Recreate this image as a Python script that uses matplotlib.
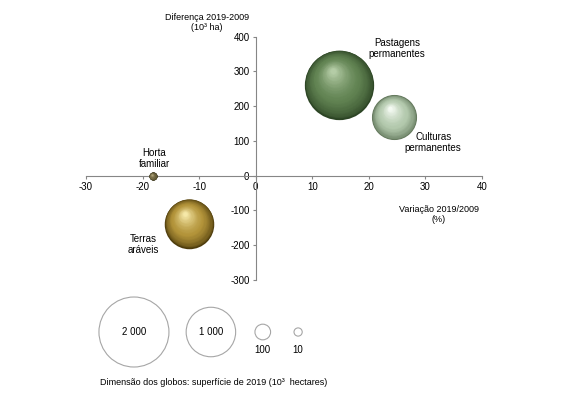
import numpy as np
import matplotlib
matplotlib.use("Agg")
import matplotlib.pyplot as plt
import matplotlib.transforms as mtransforms
from matplotlib.colors import to_rgb

plt.rcParams['font.family'] = ['Liberation Sans', 'DejaVu Sans']
plt.rcParams['axes.unicode_minus'] = False

# data
categorias = ['Pastagens\npermanentes', 'Culturas\npermanentes', 'Terras\naráveis', 'Horta\nfamiliar']
variacao = [14.7, 24.5, -11.8, -18.2]      # Variação 2019/2009 (%)
diferenca = [262, 168, -138, -2]            # Diferença 2019-2009 (10³ ha)
superficie = [1960, 830, 1000, 18]          # superfície 2019 (10³ ha)

legenda_valores = [2000, 1000, 100, 10]
legenda_textos = ['2 000', '1 000', '100', '10']

# colours: dark rim, mid tone, highlight
cores = [
    ('#2c4424', '#628453', '#b4cca6'),
    ('#5f7458', '#b3c9ad', '#f4faf2'),
    ('#4e3c0c', '#b3943a', '#f6e8a8'),
    ('#353018', '#6e6540', '#b0a478'),
]
# label offsets from bubble centre (points)
label_off = [(42, 26), (28, -18), (-33, -15), (1, 13)]

K = 1.27  # points^2 per 10³ ha


def bubble_size(v):
    return np.maximum(K * np.asarray(v, dtype=float), 35)


def blend(c1, c2, t):
    a, b = np.array(to_rgb(c1)), np.array(to_rgb(c2))
    return tuple(a + (b - a) * t)


def sphere(ax, x, y, s, dark, mid, light, n=40):
    # stack of shrinking discs drifting toward the highlight -> fake 3D globe
    r_pt = np.sqrt(s) / 2
    for i in range(n):
        t = i / (n - 1)
        rr = r_pt * (1 - 0.92 * t)
        dx, dy = -0.18 * r_pt * t, 0.40 * r_pt * t
        if t < 0.4:
            col = blend(dark, mid, (t / 0.4) ** 0.6)
        else:
            col = blend(mid, light, ((t - 0.4) / 0.6) ** 1.4)
        tr = mtransforms.offset_copy(ax.transData, fig=ax.figure, x=dx, y=dy, units='points')
        ax.scatter([x], [y], s=(2 * rr) ** 2, color=col, transform=tr,
                   linewidths=0, zorder=3 + i * 0.01)


fig = plt.figure(figsize=(5.7, 3.96), dpi=100)
ax = fig.add_axes([0.1509, 0.2929, 0.6947, 0.6144])

sizes = bubble_size(superficie)
for i in range(len(categorias)):
    sphere(ax, variacao[i], diferenca[i], sizes[i], *cores[i])
    ax.annotate(categorias[i], (variacao[i], diferenca[i]), xytext=label_off[i],
                textcoords='offset points', ha='center', va='center',
                fontsize=7, linespacing=1.1, zorder=10)

ax.set_xlim(-30, 40)
ax.set_ylim(-300, 400)
ax.set_xticks(np.arange(-30, 41, 10))
ax.set_yticks(np.arange(-300, 401, 100))
ax.spines['left'].set_position(('data', 0))
ax.spines['bottom'].set_position(('data', 0))
ax.spines['top'].set_visible(False)
ax.spines['right'].set_visible(False)
for sp in ('left', 'bottom'):
    ax.spines[sp].set_color('#868686')
    ax.spines[sp].set_linewidth(0.8)
ax.tick_params(axis='both', labelsize=7, length=2.5, width=0.8, color='#868686', pad=2)
ax.patch.set_visible(False)

ax.text(-8.6, 440, 'Diferença 2019-2009\n(10³ ha)', ha='center', va='center',
        fontsize=6.5, linespacing=1.1, clip_on=False)
ax.text(32.4, -111, 'Variação 2019/2009\n(%)', ha='center', va='center',
        fontsize=6.5, linespacing=1.1)

# legend for bubble sizes
lax = fig.add_axes([0, 0, 1, 1])
lax.set_xlim(0, 1)
lax.set_ylim(0, 1)
lax.axis('off')
leg_x = [0.235, 0.370, 0.461, 0.523]
leg_y = 0.1616
lax.scatter(leg_x, [leg_y] * 4, s=bubble_size(legenda_valores), facecolors='none',
            edgecolors='#a6a6a6', linewidths=0.8)
for i, txt in enumerate(legenda_textos):
    if i < 2:
        lax.text(leg_x[i], leg_y, txt, ha='center', va='center', fontsize=7)
    else:
        lax.text(leg_x[i], 0.116, txt, ha='center', va='center', fontsize=7)
lax.text(0.375, 0.035, 'Dimensão dos globos: superfície de 2019 (10³  hectares)',
         ha='center', va='center', fontsize=6.5)

fig.savefig('out.png', dpi=100)
